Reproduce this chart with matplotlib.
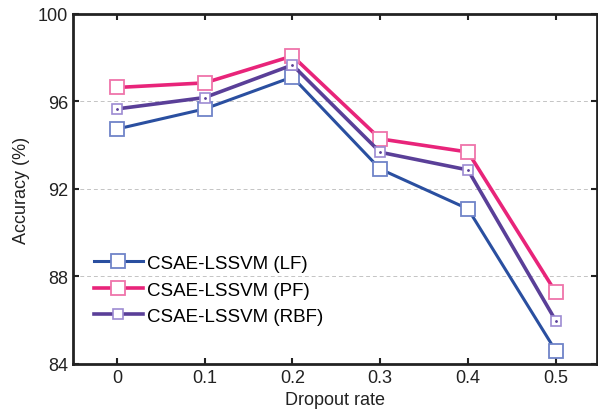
import matplotlib
matplotlib.use("Agg")
import matplotlib.pyplot as plt

plt.rcParams['font.family'] = ['Liberation Sans', 'DejaVu Sans']

dropout = [0, 0.1, 0.2, 0.3, 0.4, 0.5]
acc_lf = [94.74, 95.66, 97.12, 92.91, 91.09, 84.60]
acc_pf = [96.64, 96.85, 98.08, 94.29, 93.69, 87.28]
acc_rbf = [95.66, 96.18, 97.67, 93.68, 92.87, 85.98]
labels = ['CSAE-LSSVM (LF)', 'CSAE-LSSVM (PF)', 'CSAE-LSSVM (RBF)']
yticks = [84, 88, 92, 96, 100]
xticklabels = ['0', '0.1', '0.2', '0.3', '0.4', '0.5']

fig = plt.figure(figsize=(5.98, 4.14), dpi=100)
ax = fig.add_axes([0.1221, 0.1184, 0.8762, 0.8454])

ax.plot(dropout, acc_lf, color='#2a4fa0', lw=2.2, marker='s', ms=10,
        mfc='white', mec='#6f84c8', mew=1.3, label=labels[0], zorder=3)
ax.plot(dropout, acc_pf, color='#e8247a', lw=2.6, marker='s', ms=10,
        mfc='white', mec='#ef74aa', mew=1.3, label=labels[1], zorder=3)
ax.plot(dropout, acc_rbf, color='#5a3f98', lw=2.6, marker='s', ms=6.5,
        mfc='white', mec='#9d8bd2', mew=1.2, label=labels[2], zorder=3)
ax.plot(dropout, acc_rbf, ls='none', marker='o', ms=1, color='#5a3f98', zorder=4)

ax.set_xlim(-0.05, 0.547)
ax.set_ylim(84, 100)
ax.set_xticks(dropout)
ax.set_xticklabels(xticklabels)
ax.set_yticks(yticks)
ax.tick_params(direction='in', length=4, width=1.5, labelsize=13,
               top=True, right=True, colors='#222222', labelcolor='#222222')
for s in ax.spines.values():
    s.set_linewidth(2)
    s.set_color('#222222')
for v in [88, 92, 96]:
    ax.axhline(v, color='#c4c4c4', lw=0.7, ls=(0, (4, 3)), zorder=1)

ax.set_xlabel('Dropout rate', fontsize=13, color='#222222', labelpad=4)
ax.set_ylabel('Accuracy (%)', fontsize=13, color='#222222', labelpad=6)

ax.legend(loc='lower left', bbox_to_anchor=(0.008, 0.063), frameon=False,
          fontsize=13.5, handlelength=2.6, handletextpad=0.2, labelspacing=0.5)

fig.savefig('out.png', dpi=100)
